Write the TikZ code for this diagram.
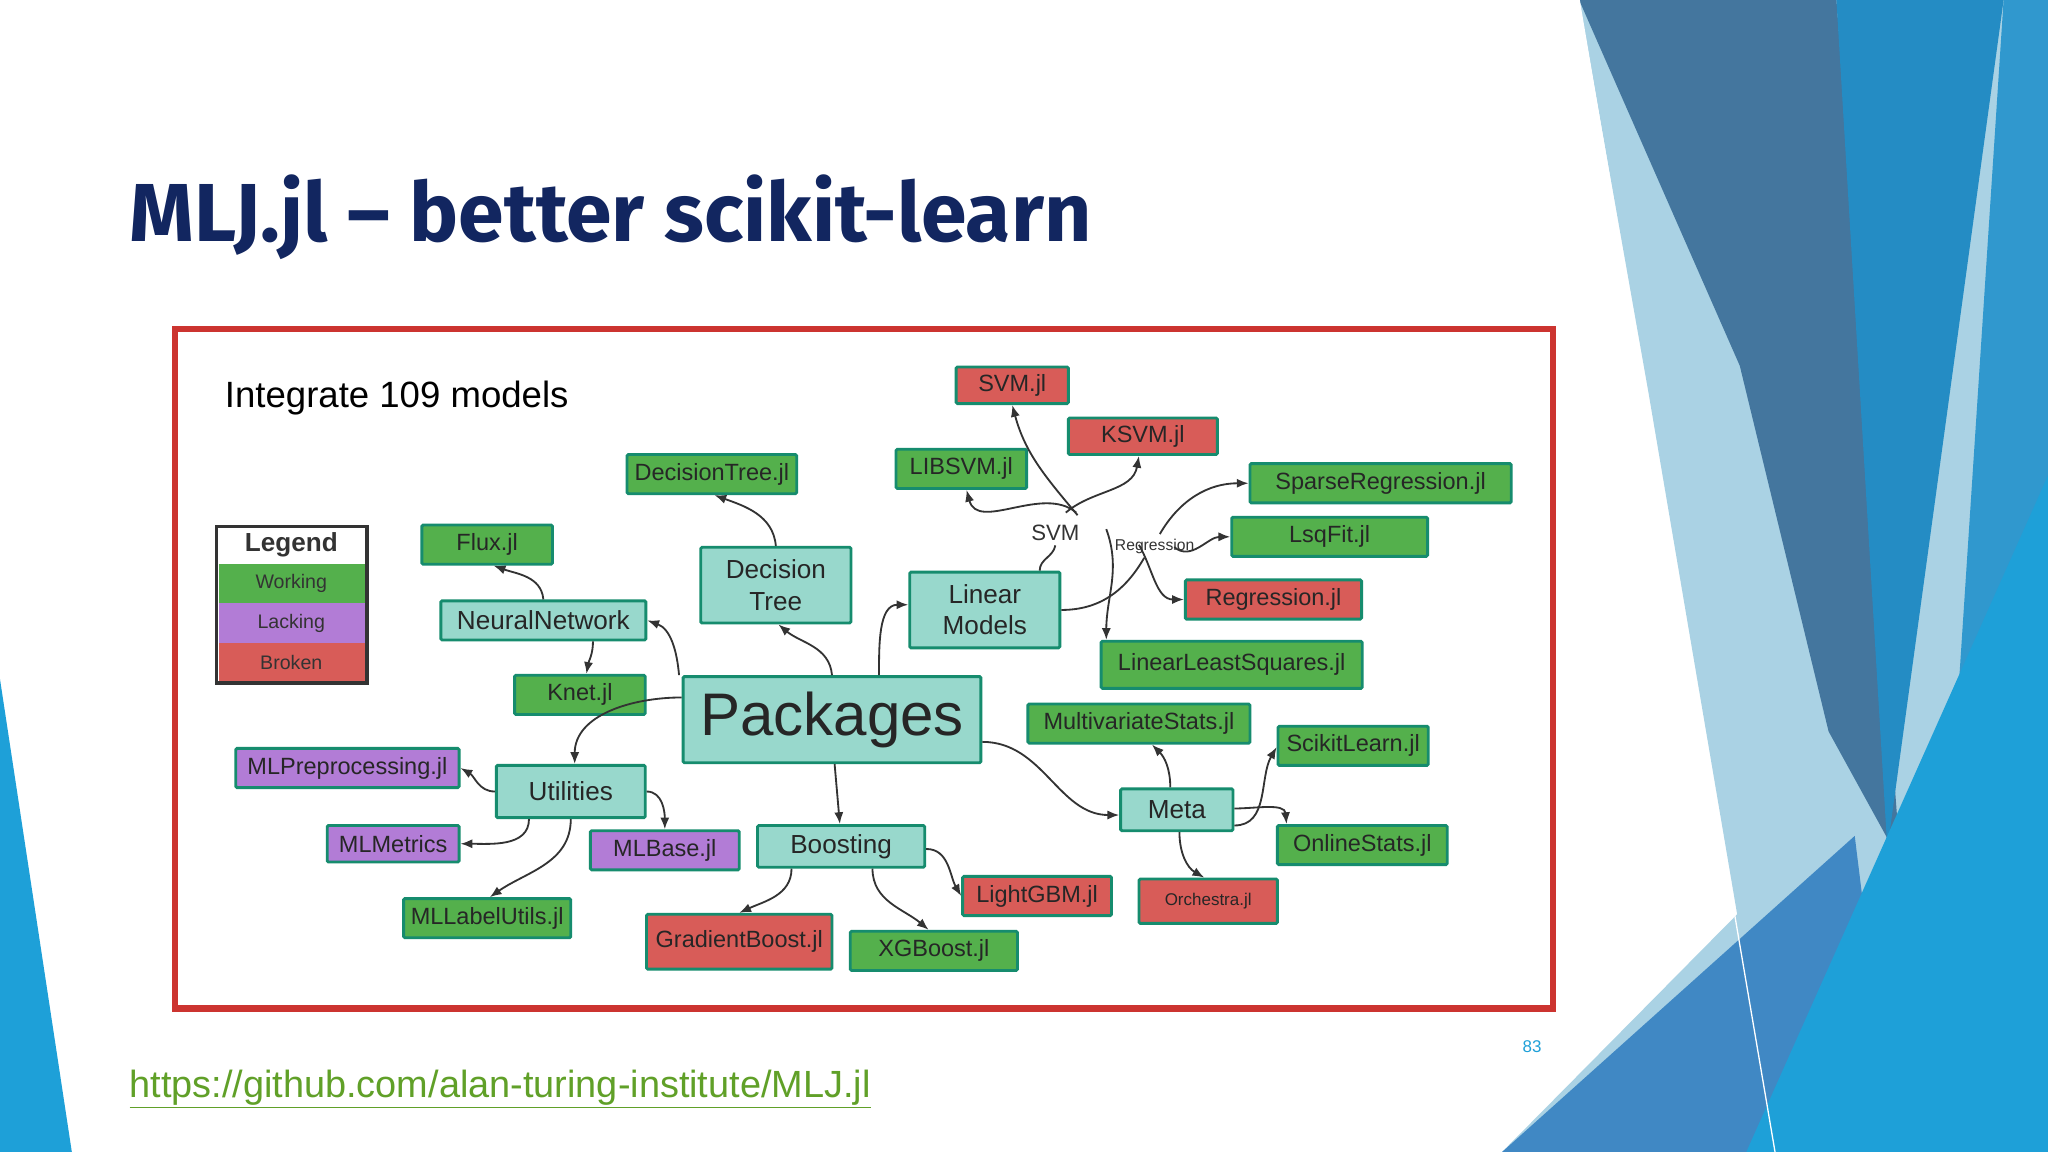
\documentclass[tikz,border=0pt]{standalone}
\usepackage{fontspec}
\setmainfont{Liberation Sans}
\newfontfamily\titlefont{Fira Sans}
\usetikzlibrary{arrows.meta}

\definecolor{navy}{RGB}{18,38,96}
\definecolor{frameRed}{RGB}{204,52,48}
\definecolor{okGreen}{RGB}{84,176,76}
\definecolor{badRed}{RGB}{216,92,88}
\definecolor{lackPurple}{RGB}{178,124,214}
\definecolor{hubTeal}{RGB}{152,216,204}
\definecolor{rim}{RGB}{22,140,110}
\definecolor{urlGreen}{RGB}{96,160,40}
\definecolor{paleBlue}{RGB}{170,210,228}
\definecolor{steelBlue}{RGB}{68,118,158}
\definecolor{colBlue}{RGB}{36,140,196}
\definecolor{stripBlue}{RGB}{48,152,206}
\definecolor{midBlue}{RGB}{64,136,196}
\definecolor{skyBlue}{RGB}{30,160,216}

\tikzset{
  box/.style={draw=rim, line width=2.2pt, rounded corners=1pt, inner sep=0pt,
              font=\fontsize{18}{18}\selectfont, text=black!85},
  leaf/.style={box, fill=okGreen},
  broken/.style={box, fill=badRed},
  lacking/.style={box, fill=lackPurple},
  hub/.style={box, fill=hubTeal, font=\fontsize{20}{24}\selectfont, align=center},
  arr/.style={-{Latex[length=9pt,width=7pt]}, line width=1.4pt, black!80},
  lnk/.style={line width=1.4pt, black!80}
}

\begin{document}
\begin{tikzpicture}[x=1pt, y=-1pt]
\useasboundingbox (0,0) rectangle (1568,882);
%
% background wedges
\fill[white] (0,0) rectangle (1568,882);
\fill[paleBlue] (1209,0) -- (1568,0) -- (1568,882) -- (1150,882) -- (1330,700) -- (1262,300) -- cycle;
\fill[steelBlue] (1209,0) -- (1406,0) -- (1455,660) -- (1400,560) -- (1332,280) -- cycle;
\fill[colBlue] (1406,0) -- (1534,0) -- (1445,650) -- cycle;
\fill[stripBlue] (1534,0) -- (1568,0) -- (1568,400) -- (1500,520) -- cycle;
\fill[midBlue] (1150,882) -- (1420,640) -- (1450,882) -- cycle;
\fill[skyBlue] (1337,882) -- (1568,364) -- (1568,882) -- cycle;
\draw[white, line width=1pt] (1209,0) -- (1359,882);
\fill[skyBlue] (0,520) -- (55,882) -- (0,882) -- cycle;
%
% title, frame, footer
\node[anchor=base west, inner sep=0pt, text=navy, font=\titlefont\bfseries\fontsize{63}{63}\selectfont]
  (title) at (99,185) {MLJ.jl – better scikit-learn};
\draw[frameRed, line width=5pt, fill=white] (134,252) rectangle (1189,772);
\node[anchor=base west, inner sep=0pt, font=\fontsize{28}{28}\selectfont] (intro) at (172,312) {Integrate 109 models};
\node[anchor=base west, inner sep=0pt, text=urlGreen, font=\fontsize{29}{29}\selectfont]
  (url) at (99,840) {\underline{https://github.com/alan-turing-institute/MLJ.jl}};
\node[text=skyBlue, font=\fontsize{13}{13}\selectfont] (pgno) at (1173,801) {83};
%
% legend
\draw[line width=2.5pt, black!80, fill=white] (166,403) rectangle (281,523);
\fill[okGreen] (167.5,432) rectangle (279.5,462);
\fill[lackPurple] (167.5,462) rectangle (279.5,492);
\fill[badRed] (167.5,492) rectangle (279.5,521.5);
\draw[line width=2.5pt, black!80] (166,403) rectangle (281,523);
\node[font=\bfseries\fontsize{20}{20}\selectfont, text=black!80] (lgd) at (223,417) {Legend};
\node[font=\fontsize{15}{15}\selectfont, text=black!80] (lgdW) at (223,447) {Working};
\node[font=\fontsize{15}{15}\selectfont, text=black!80] (lgdL) at (223,477) {Lacking};
\node[font=\fontsize{15}{15}\selectfont, text=black!80] (lgdB) at (223,507) {Broken};
%
% hubs
\node[hub, minimum width=228, minimum height=66, font=\fontsize{46}{46}\selectfont] (pk) at (637,551) {Packages};
\node[hub, minimum width=157, minimum height=30] (nn) at (416,475) {NeuralNetwork};
\node[hub, minimum width=115, minimum height=58] (dt) at (594,448) {Decision\\Tree};
\node[hub, minimum width=115, minimum height=58] (lm) at (754,467) {Linear\\Models};
\node[hub, minimum width=114, minimum height=40] (util) at (437,606) {Utilities};
\node[hub, minimum width=128, minimum height=32] (boost) at (644,648) {Boosting};
\node[hub, minimum width=86, minimum height=32] (meta) at (901,620) {Meta};
\node[font=\fontsize{17}{17}\selectfont, text=black!80] (svm) at (808,408) {SVM};
\node[font=\fontsize{12}{12}\selectfont, text=black!80] (reg) at (884,418) {Regression};
%
% leaves
\node[broken, minimum width=86, minimum height=28] (svmj) at (775,295) {SVM.jl};
\node[broken, minimum width=114, minimum height=28] (ksvm) at (875,334) {KSVM.jl};
\node[leaf, minimum width=100, minimum height=30] (libsvm) at (736,359) {LIBSVM.jl};
\node[leaf, minimum width=130, minimum height=30] (dtj) at (545,363) {DecisionTree.jl};
\node[leaf, minimum width=200, minimum height=30] (sparse) at (1057,370) {SparseRegression.jl};
\node[leaf, minimum width=150, minimum height=30] (lsq) at (1018,411) {LsqFit.jl};
\node[leaf, minimum width=100, minimum height=30] (flux) at (373,417) {Flux.jl};
\node[broken, minimum width=135, minimum height=30] (regj) at (975,459) {Regression.jl};
\node[leaf, minimum width=200, minimum height=36] (lls) at (943,509) {LinearLeastSquares.jl};
\node[leaf, minimum width=100, minimum height=30] (knet) at (444,532) {Knet.jl};
\node[leaf, minimum width=170, minimum height=30] (mvs) at (872,554) {MultivariateStats.jl};
\node[leaf, minimum width=115, minimum height=30] (skl) at (1036,571) {ScikitLearn.jl};
\node[lacking, minimum width=171, minimum height=30] (mlpre) at (266,588) {MLPreprocessing.jl};
\node[lacking, minimum width=101, minimum height=28] (mlmet) at (301,646) {MLMetrics};
\node[lacking, minimum width=114, minimum height=30] (mlbase) at (509,651) {MLBase.jl};
\node[leaf, minimum width=130, minimum height=30] (online) at (1043,647) {OnlineStats.jl};
\node[broken, minimum width=114, minimum height=30] (lgbm) at (794,686) {LightGBM.jl};
\node[broken, minimum width=106, minimum height=34, font=\fontsize{13}{13}\selectfont] (orch) at (925,690) {Orchestra.jl};
\node[leaf, minimum width=128, minimum height=30] (mllab) at (373,703) {MLLabelUtils.jl};
\node[broken, minimum width=142, minimum height=42] (gb) at (566,721) {GradientBoost.jl};
\node[leaf, minimum width=128, minimum height=30] (xgb) at (715,728) {XGBoost.jl};
%
% connectors
\draw[arr] ([xshift=-2]pk.north west) to[out=95,in=-20] (nn.east);
\draw[arr] (nn.north) to[out=95,in=-20] ([xshift=5]flux.south);
\draw[arr] ([xshift=38]nn.south) to[out=-90,in=80] ([xshift=5]knet.north);
\draw[arr] ([xshift=0]pk.north) to[out=95,in=-40] ([xshift=2]dt.south);
\draw[arr] (dt.north) to[out=95,in=-20] ([xshift=2]dtj.south);
\draw[arr] ([xshift=36]pk.north) to[out=90,in=180] ([yshift=4]lm.west);
\draw[lnk] ([xshift=42]lm.north) to[out=90,in=-100] (svm.south);
\draw[arr] ([xshift=17,yshift=4]svm.north) to[out=130,in=-75] (svmj.south);
\draw[arr] ([xshift=8,yshift=6]svm.north) to[out=40,in=-100] ([xshift=-3]ksvm.south);
\draw[arr] ([xshift=16,yshift=6]svm.north) to[out=140,in=-75] ([xshift=4]libsvm.south);
\draw[lnk] (lm.east) to[out=0,in=-120] ([xshift=-8]reg.south);
\draw[arr] ([xshift=4]reg.north) to[out=60,in=180] (sparse.west);
\draw[arr] ([xshift=15,yshift=-10]reg.north) to[out=-40,in=180] (lsq.west);
\draw[arr] ([xshift=-12,yshift=10]reg.south) to[out=-60,in=180] (regj.west);
\draw[arr] ([xshift=-37,yshift=22]reg.south) to[out=-70,in=90] ([xshift=-96]lls.north);
\draw[arr] ([yshift=17]pk.west) to[out=180,in=90] ([xshift=3]util.north);
\draw[arr] (util.west) to[out=180,in=-30] (mlpre.east);
\draw[arr] ([xshift=-32]util.south) to[out=-90,in=0] (mlmet.east);
\draw[arr] (util.south) to[out=-90,in=35] ([xshift=2]mllab.north);
\draw[arr] (util.east) to[out=0,in=90] (mlbase.north);
\draw[arr] ([xshift=2]pk.south) -- ([xshift=-1]boost.north);
\draw[arr] ([xshift=-38]boost.south) to[out=-90,in=25] ([xshift=0]gb.north);
\draw[arr] ([xshift=24]boost.south) to[out=-90,in=140] ([xshift=-4]xgb.north);
\draw[arr] ([yshift=-2]boost.east) to[out=0,in=120] (lgbm.west);
\draw[arr] ([yshift=-17]pk.east) to[out=0,in=180] ([yshift=-4]meta.west);
\draw[arr] ([xshift=-5]meta.north) to[out=90,in=-45] ([xshift=10]mvs.south);
\draw[arr] ([yshift=-12]meta.east) to[out=0,in=-120] ([yshift=-1]skl.west);
\draw[arr] ([yshift=1]meta.east) to[out=0,in=95] ([xshift=-58]online.north);
\draw[arr] ([xshift=2]meta.south) to[out=-90,in=150] ([xshift=-3]orch.north);
\end{tikzpicture}
\end{document}
